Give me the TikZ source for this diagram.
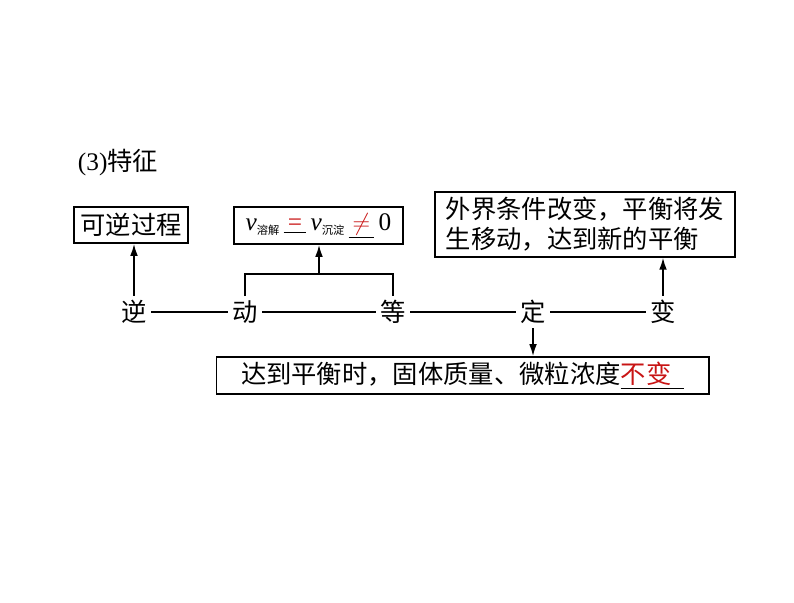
\documentclass[tikz,border=0pt]{standalone}
\usepackage{fontspec}
\usetikzlibrary{arrows.meta}
\setmainfont{Liberation Serif}
\newfontfamily\cjk{Noto Sans CJK SC}
\definecolor{answer}{RGB}{200,20,20}
\tikzset{
	infobox/.style={draw, line width=1.3pt, inner sep=0pt, font=\fontsize{18}{21.3}\selectfont\cjk},
	keyword/.style={inner sep=3pt, font=\fontsize{18}{21.3}\selectfont\cjk},
	link/.style={line width=1.1pt},
	pointer/.style={line width=1.1pt, -{Latex[length=8.5pt, width=5.5pt]}},
}
\newcommand{\sub}[1]{\raisebox{-3pt}{\cjk\fontsize{8}{8}\selectfont #1}}
\begin{document}
\begin{tikzpicture}[x=0.025cm, y=-0.025cm]
	\useasboundingbox (0,0) rectangle (794,603);
	\node[anchor=west, font=\fontsize{18}{21.3}\selectfont] (title) at (73,163) {(3){\cjk 特征}};
	% boxes
	\node[infobox, minimum width=81pt, minimum height=25.6pt] (rev) at (131,225) {可逆过程};
	\node[infobox, minimum width=120pt, minimum height=26.3pt, font=\fontsize{18}{21.3}\selectfont] (rate) at (318.5,225.5) {\textit{v}\sub{溶解}\,\underline{\,\textcolor{answer}{=}\,}\,\textit{v}\sub{沉淀}\,\underline{\,\textcolor{answer}{$\neq$}\,}\,0};
	\node[infobox, minimum width=213pt, minimum height=46pt, align=left] (ext) at (585,224.5) {外界条件改变，平衡将发\\生移动，达到新的平衡};
	\node[infobox, minimum width=350pt, minimum height=26.3pt] (result) at (462.5,375.5) {达到平衡时，固体质量、微粒浓度\underline{\textcolor{answer}{不变}\hspace{0.5em}}};
	% characteristics
	\node[keyword] (ni) at (134,312) {逆};
	\node[keyword] (dong) at (245,312) {动};
	\node[keyword] (deng) at (393,312) {等};
	\node[keyword] (ding) at (533,312) {定};
	\node[keyword] (bian) at (663,312) {变};
	\draw[link] (ni) -- (dong);
	\draw[link] (dong) -- (deng);
	\draw[link] (deng) -- (ding);
	\draw[link] (ding) -- (bian);
	% arrows
	\coordinate (join) at (319,274);
	\draw[link] (dong.north) |- (join) -| (deng.north);
	\draw[pointer] (join) -- (join |- rate.south);
	\draw[pointer] (ni.north) -- (ni.north |- rev.south);
	\draw[pointer] (bian.north) -- (bian.north |- ext.south);
	\draw[pointer] (ding.south) -- (ding.south |- result.north);
\end{tikzpicture}
\end{document}
